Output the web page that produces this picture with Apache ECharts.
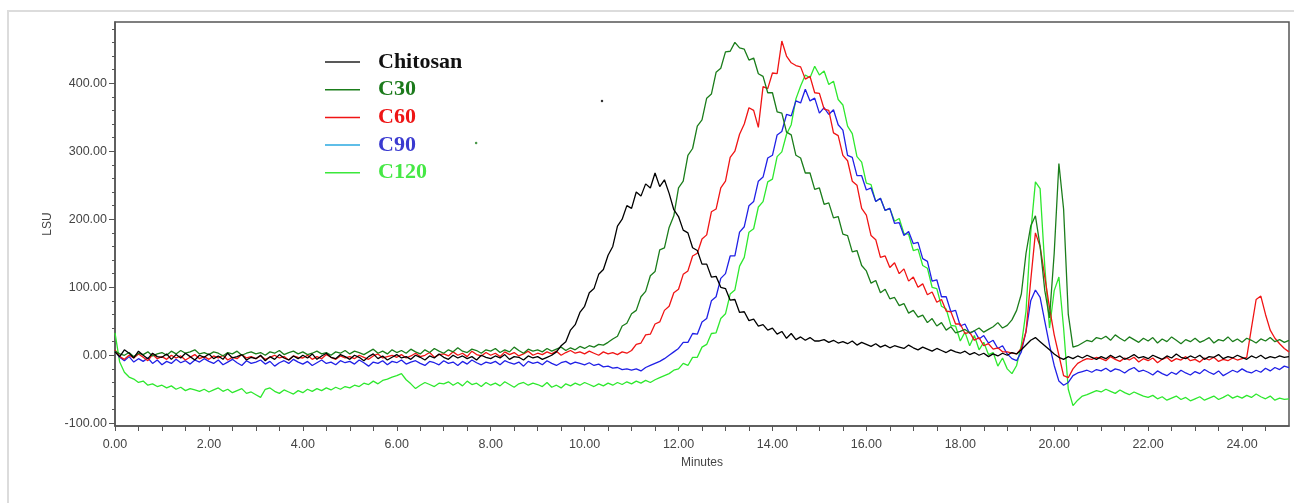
<!DOCTYPE html>
<html>
<head>
<meta charset="utf-8">
<title>LSU chromatograms</title>
<script src="https://cdn.jsdelivr.net/npm/echarts@6/dist/echarts.min.js"></script>
<style>
  html, body { margin: 0; padding: 0; background: #fff; }
  #chart { width: 1294px; height: 503px; }
</style>
</head>
<body>
<div id="chart"></div>
<script>
// one reading every 0.1 min, 0.00 .. 25.00 (251 readings per trace)
var timeStep = 0.1;

var chitosan = [
  5, -2, 8, 3, -4, 6, 0, -5, 3, -2,
  -3, 2, -6, 1, -4, 3, -2, -7, 0, -3,
  2, -5, -1, -6, 3, -4, -2, 1, -7, -3,
  -5, 0, -8, -2, -6, 1, -4, -7, -1, -5,
  0, -4, 2, -6, -1, 3, -3, -5, 1, -2,
  -6, 0, -3, -8, -2, 2, -5, -1, -7, -3,
  1, -4, -2, -6, 0, -3, -7, -1, -4, 2,
  -3, -6, 0, -4, -1, -5, -2, -7, 0, -3,
  -5, -1, -4, 1, -6, -2, -3, -7, -1, -4,
  -2, -6, -3, 0, 5, 14, 20, 37, 45, 63,
  72, 92, 98, 119, 126, 147, 160, 190, 200, 220,
  216, 240, 234, 252, 246, 268, 248, 258, 238, 214,
  204, 184, 180, 158, 154, 134, 134, 115, 116, 100,
  98, 81, 82, 63, 64, 51, 53, 43, 45, 37,
  40, 31, 35, 25, 32, 23, 27, 22, 26, 21,
  21, 23, 19, 22, 18, 20, 17, 21, 15, 19,
  16, 13, 17, 12, 15, 11, 14, 12, 10, 15,
  11, 8, 12, 9, 6, 10, 7, 4, 8, 5,
  3, 6, 1, 4, 0, 3, -2, 2, -1, 3,
  0, 4, 2, 8, 15, 22, 26, 20, 14, 8,
  2, -3, -6, -2, -5, -1, -4, 0, -3, -6,
  -2, -5, 0, -4, -1, -6, -3, 1, -4, -2,
  -5, 0, -3, -6, -1, -4, 2, -3, -5, -1,
  -4, 0, -6, -2, -3, 1, -5, -2, -4, 0,
  -3, -6, -1, -4, 0, -5, -2, -4, -1, -3, -2
];

var c30 = [
  6, 2, 0, 4, -2, 3, 1, 5, -1, 2,
  4, 0, 6, 2, 7, 3, 5, 8, 2, 4,
  1, 5, 3, -1, 4, 2, 6, 0, 3, 5,
  2, 4, 0, 5, 3, 7, 1, 4, 6, 2,
  5, 1, 3, 6, 2, 4, 0, 5, 3, 7,
  2, 6, 4, 1, 5, 9, 3, 6, 2, 8,
  4, 7, 3, 9, 5, 2, 8, 4, 10, 6,
  3, 8, 5, 11, 6, 4, 9, 7, 3, 8,
  6, 10, 4, 8, 5, 12, 7, 3, 9, 6,
  8, 5, 10, 6, 9, 12, 7, 11, 8, 13,
  10, 14, 12, 16, 15, 19, 24, 28, 43, 47,
  61, 66, 86, 94, 117, 123, 155, 158, 188, 205,
  246, 256, 294, 304, 337, 346, 378, 384, 416, 422,
  446, 447, 460, 452, 450, 434, 437, 414, 410, 386,
  386, 358, 356, 328, 324, 294, 290, 268, 268, 244,
  246, 222, 224, 202, 204, 178, 176, 152, 154, 132,
  124, 106, 110, 92, 97, 83, 85, 73, 76, 62,
  66, 56, 59, 48, 54, 43, 48, 37, 42, 33,
  35, 38, 33, 36, 40, 34, 38, 42, 48, 40,
  44, 52, 66, 90, 150, 190, 205, 160, 95, 55,
  150, 282, 215, 60, 12, 14, 18, 22, 20, 26,
  24, 28, 22, 30, 25, 21, 27, 23, 19, 25,
  21, 26, 18, 24, 20, 27, 22, 17, 23, 20,
  25, 19, 22, 26, 18, 23, 21, 27, 20, 24,
  19, 25, 22, 18, 24, 21, 26, 20, 23, 19, 22
];

var c60 = [
  8, -2, -6, 0, -4, 2, -3, -8, 1, -5,
  -2, -6, 0, -4, -1, -7, -3, 1, -5, -2,
  -6, -1, -4, 0, -7, -3, -5, 1, -4, -2,
  -5, -1, -6, -3, 0, -4, -2, -7, -1, -3,
  -4, 0, -6, -2, -5, 1, -3, -6, -1, -4,
  -2, -5, 0, -3, -6, -1, 2, -4, -2, 0,
  -3, 1, -4, -1, 3, -2, 0, 4, -3, 1,
  2, -1, 5, 0, 3, -2, 6, 1, -1, 4,
  0, 3, -2, 5, 1, 4, -1, 2, 6, 0,
  3, 1, 5, 2, 6, 0, 4, 7, 3, 5,
  2, 6, 3, 0, 5, 2, 4, 1, 5, 3,
  7, 16, 18, 30, 31, 46, 49, 66, 72, 92,
  97, 119, 124, 146, 150, 171, 177, 211, 215, 246,
  256, 291, 300, 325, 340, 364, 360, 335, 395, 392,
  415, 414, 462, 440, 430, 426, 424, 406, 410, 386,
  385, 362, 360, 327, 323, 294, 286, 256, 250, 216,
  206, 176, 170, 144, 146, 129, 136, 120, 127, 109,
  115, 100, 105, 89, 93, 78, 82, 65, 64, 46,
  46, 32, 34, 22, 26, 14, 17, 9, 11, 5,
  5, 3, 2, 10, 35, 110, 180, 160, 115, 70,
  30, 0, -30, -33, -20, -12, -8, -5, -6, -3,
  -5, -8, -2, -6, -9, -4, -7, -3, -10, -5,
  -8, -4, -11, -6, -3, -9, -5, -7, -2, -8,
  -6, -10, -4, -7, -3, -9, -6, -8, -4, -7,
  -5, -3, 40, 82, 87, 60, 37, 25, 17, 10, 5
];

var c90 = [
  6, -3, -8, -2, -10, -5, -9, -4, -12, -7,
  -14, -9, -12, -6, -11, -8, -13, -7, -10, -5,
  -9, -12, -7, -14, -10, -6, -11, -15, -8, -12,
  -10, -7, -13, -9, -16, -11, -8, -12, -6, -10,
  -13, -9, -15, -11, -7, -12, -10, -14, -8, -11,
  -9, -13, -7, -11, -16, -10, -12, -8, -14, -9,
  -11, -7, -13, -10, -8, -12, -15, -9, -11, -14,
  -8, -12, -10, -15, -9, -13, -7, -11, -14, -10,
  -12, -9, -14, -8, -11, -13, -10, -16, -9, -12,
  -10, -14, -8, -12, -15, -11, -9, -13, -10, -12,
  -14, -11, -15, -13, -17, -16, -19, -18, -21, -20,
  -22, -20, -23, -18, -15, -12, -9, -5, 0, 5,
  10, 19, 19, 32, 31, 49, 54, 80, 86, 113,
  120, 146, 146, 181, 189, 220, 226, 256, 262, 290,
  294, 324, 329, 354, 352, 374, 371, 391, 374, 378,
  356, 364, 354, 361, 339, 331, 294, 291, 264, 264,
  243, 246, 226, 231, 213, 216, 194, 195, 176, 182,
  164, 166, 142, 138, 109, 111, 86, 86, 64, 66,
  43, 46, 32, 36, 24, 29, 18, 22, 10, 14,
  2, -5, -8, 5, 35, 80, 96, 85, 50, 15,
  -15, -38, -44, -40, -30, -26, -24, -22, -25, -21,
  -23, -19, -24, -20, -22, -26, -21, -18, -24, -22,
  -25, -29, -23, -27, -30, -25, -28, -22, -26, -29,
  -24, -27, -21, -25, -28, -23, -30, -26, -22, -25,
  -20, -24, -26, -22, -25, -19, -23, -18, -21, -16, -18
];

var c120 = [
  33, -10, -25, -32, -35, -40, -38, -44, -42, -46,
  -44, -48, -45, -50, -47, -52, -49, -51, -53, -50,
  -54, -51, -48, -53, -50, -55, -52, -49, -56, -54,
  -58, -62, -50, -48, -53, -56, -51, -54, -57, -52,
  -55, -50, -53, -49, -52, -48, -51, -47, -50, -46,
  -48, -44, -46, -41, -43, -38, -42, -37, -35, -32,
  -30, -27, -36, -42, -49, -44, -40, -43, -46, -41,
  -42, -39, -44, -40, -45, -38, -43, -41, -46, -40,
  -44, -41, -45, -39, -43, -47, -42, -40, -44, -41,
  -43, -46, -40, -47, -44, -48, -42, -45, -41, -44,
  -40, -43, -46, -42, -45, -41, -44, -40, -43, -39,
  -42, -38, -41, -37, -40, -36, -33, -30, -27, -22,
  -20, -12, -15, -3, -3, 12, 16, 32, 33, 54,
  61, 90, 96, 131, 144, 181, 186, 218, 226, 255,
  259, 292, 299, 325, 339, 377, 396, 412, 408, 425,
  412, 418, 398, 403, 376, 368, 337, 326, 292, 284,
  253, 251, 226, 231, 213, 216, 197, 201, 179, 178,
  154, 156, 132, 128, 100, 98, 72, 68, 44, 43,
  21, 34, 14, 29, 8, 19, 1, 4, -16, -4,
  -20, -27, -15, 15, 65, 180, 255, 245, 130, 40,
  95, 115, 40, -50, -74, -66, -60, -58, -55, -52,
  -54, -50, -53, -56, -51, -55, -58, -54, -57, -60,
  -62, -59, -64, -61, -66, -63, -60, -65, -62, -67,
  -64, -61, -66, -63, -60, -65, -62, -58, -63, -60,
  -63, -59, -62, -57, -61, -64, -60, -66, -63, -65, -64
];

var seriesNames = ["Chitosan", "C30", "C60", "C90", "C120"];
var traces = [chitosan, c30, c60, c90, c120];

// two stray specks in the plot area: [minutes, LSU]
var speckBlack = [[10.37, 374]];
var speckGreen = [[7.69, 312]];

var yLabelTicks = [-100, 0, 100, 200, 300, 400];
var yMinorTicks = [-100, -80, -60, -40, -20, 0, 20, 40, 60, 80, 100, 120, 140, 160, 180,
  200, 220, 240, 260, 280, 300, 320, 340, 360, 380, 400, 420, 440, 460, 480];
var xLabelTicks = [0, 2, 4, 6, 8, 10, 12, 14, 16, 18, 20, 22, 24];
var xTicks = [0, 0.5, 1, 1.5, 2, 2.5, 3, 3.5, 4, 4.5, 5, 5.5, 6, 6.5, 7, 7.5, 8, 8.5, 9, 9.5,
  10, 10.5, 11, 11.5, 12, 12.5, 13, 13.5, 14, 14.5, 15, 15.5, 16, 16.5, 17, 17.5, 18, 18.5,
  19, 19.5, 20, 20.5, 21, 21.5, 22, 22.5, 23, 23.5, 24, 24.5];

var lineColors = ["#000000", "#1b7d1b", "#f01414", "#2020e6", "#2ee82e"];
var legendLineColors = ["#222222", "#1b7d1b", "#f01414", "#2aa8e0", "#3be83b"];
var legendTextColors = ["#111111", "#1b7a1b", "#ee1515", "#3a3ad0", "#45e845"];
var drawOrder = [6, 5, 4, 3, 2];

var myChart = echarts.init(document.getElementById("chart"));

var series = [];
for (var i = 0; i < seriesNames.length; i++) {
  var pts = [];
  for (var j = 0; j < traces[i].length; j++) {
    pts.push([Math.round(j * timeStep * 100) / 100, traces[i][j]]);
  }
  series.push({
    name: seriesNames[i],
    type: "line",
    data: pts,
    symbol: "none",
    z: drawOrder[i],
    lineStyle: { color: lineColors[i], width: 1.3 },
    itemStyle: { color: lineColors[i] },
    animation: false
  });
}
series.push({
  type: "scatter", data: speckBlack, symbolSize: 2.5,
  itemStyle: { color: "#000" }, silent: true, animation: false
});
series.push({
  type: "scatter", data: speckGreen, symbolSize: 2.5,
  itemStyle: { color: "#1b7d1b" }, silent: true, animation: false
});

var axisFont = { fontFamily: "Liberation Sans", fontSize: 12, color: "#444" };

var options = {
  backgroundColor: "#fff",
  animation: false,
  graphic: [
    {
      type: "rect",
      shape: { x: 8, y: 11, width: 1400, height: 600 },
      style: { fill: "none", stroke: "#dcdcdc", lineWidth: 2 },
      silent: true
    }
  ],
  grid: {
    left: 115,
    right: 5,
    top: 22,
    bottom: 77,
    show: true,
    borderColor: "#555",
    borderWidth: 1.5
  },
  legend: {
    orient: "vertical",
    left: 320,
    top: 46,
    icon: "rect",
    itemWidth: 35,
    itemHeight: 1.5,
    itemGap: 5.7,
    selectedMode: false,
    textStyle: {
      fontFamily: "Liberation Serif",
      fontWeight: "bold",
      fontSize: 22,
      padding: [0, 0, 0, 13]
    },
    data: seriesNames.map(function (n, k) {
      return {
        name: n,
        itemStyle: { color: legendLineColors[k] },
        textStyle: { color: legendTextColors[k] }
      };
    })
  },
  xAxis: {
    type: "value",
    min: 0,
    max: 25,
    name: "Minutes",
    nameLocation: "middle",
    nameGap: 31,
    nameTextStyle: axisFont,
    axisLine: { show: true, onZero: false, lineStyle: { color: "#555", width: 1.5 } },
    axisTick: { show: true, length: 5, customValues: xTicks, lineStyle: { color: "#555" } },
    axisLabel: {
      customValues: xLabelTicks,
      margin: 12,
      fontFamily: "Liberation Sans",
      fontSize: 12.5,
      color: "#444",
      formatter: function (v) { return v.toFixed(2); }
    },
    splitLine: { show: false }
  },
  yAxis: [
    {
      type: "value",
      min: -104,
      max: 490,
      name: "LSU",
      nameLocation: "middle",
      nameGap: 57,
      nameRotate: 90,
      nameTextStyle: axisFont,
      axisLine: { show: true, lineStyle: { color: "#555", width: 1.5 } },
      axisTick: { show: true, length: 6, customValues: yLabelTicks, lineStyle: { color: "#555" } },
      axisLabel: {
        customValues: yLabelTicks,
        margin: 8,
        fontFamily: "Liberation Sans",
        fontSize: 12.5,
        color: "#444",
        formatter: function (v) { return v.toFixed(2); }
      },
      splitLine: { show: false }
    },
    {
      type: "value",
      min: -104,
      max: 490,
      position: "left",
      axisLine: { show: false },
      axisTick: { show: true, length: 3, customValues: yMinorTicks, lineStyle: { color: "#555" } },
      axisLabel: { show: false },
      splitLine: { show: false }
    }
  ],
  series: series
};

myChart.setOption(options);
</script>
</body>
</html>
